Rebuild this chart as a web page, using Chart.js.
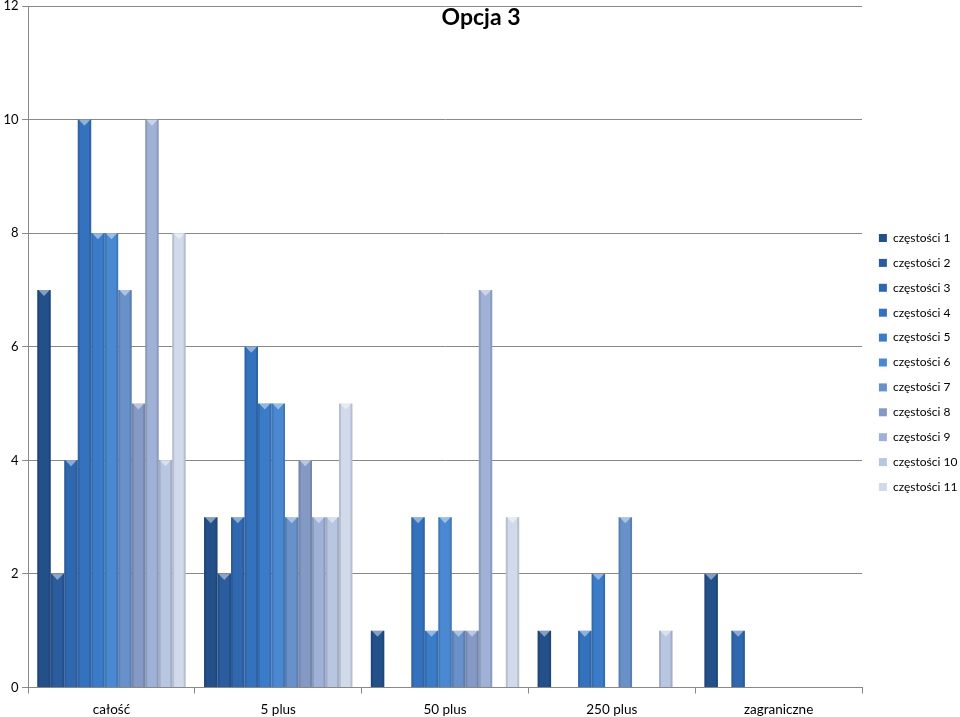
<!DOCTYPE html>
<html>
<head>
<meta charset="utf-8">
<script src="https://cdn.jsdelivr.net/npm/chart.js@4"></script>
<style>
  body { margin: 0; background: #fff; }
  #wrap { width: 960px; height: 717px; }
</style>
</head>
<body>
<div id="wrap"><canvas id="chart"></canvas></div>
<script>
const categories = ['całość', '5 plus', '50 plus', '250 plus', 'zagraniczne'];
const seriesNames = ['częstości 1', 'częstości 2', 'częstości 3', 'częstości 4', 'częstości 5', 'częstości 6',
  'częstości 7', 'częstości 8', 'częstości 9', 'częstości 10', 'częstości 11'];
const czestosci1 = [7, 3, 1, 1, 2];
const czestosci2 = [2, 2, 0, 0, 0];
const czestosci3 = [4, 3, 0, 0, 1];
const czestosci4 = [10, 6, 3, 1, 0];
const czestosci5 = [8, 5, 1, 2, 0];
const czestosci6 = [8, 5, 3, 0, 0];
const czestosci7 = [7, 3, 1, 3, 0];
const czestosci8 = [5, 4, 1, 0, 0];
const czestosci9 = [10, 3, 7, 0, 0];
const czestosci10 = [4, 3, 0, 1, 0];
const czestosci11 = [8, 5, 3, 0, 0];
const seriesValues = [czestosci1, czestosci2, czestosci3, czestosci4, czestosci5, czestosci6,
  czestosci7, czestosci8, czestosci9, czestosci10, czestosci11];
const yTicks = [0, 2, 4, 6, 8, 10, 12];

const colors = ['#24508a', '#2a5c9e', '#3068b0', '#3572bd', '#3b7cc9', '#4a89d2',
  '#6890c9', '#8499c3', '#9fb1d6', '#b9c6e1', '#d1daeb'];

// light chevron on top of each bar, like the Excel bevel
const bevel = {
  id: 'bevel',
  afterDatasetsDraw(chart) {
    const ctx = chart.ctx;
    chart.data.datasets.forEach((ds, i) => {
      chart.getDatasetMeta(i).data.forEach((bar, j) => {
        if (!ds.data[j]) return;
        const half = bar.width / 2;
        ctx.save();
        ctx.fillStyle = 'rgba(255,255,255,0.45)';
        ctx.beginPath();
        ctx.moveTo(bar.x - half + 1, bar.y);
        ctx.lineTo(bar.x + half - 1, bar.y);
        ctx.lineTo(bar.x, bar.y + 6);
        ctx.closePath();
        ctx.fill();
        ctx.fillStyle = 'rgba(0,0,0,0.12)';
        ctx.fillRect(bar.x - half, bar.y, 2, bar.base - bar.y);
        ctx.fillRect(bar.x + half - 2, bar.y, 2, bar.base - bar.y);
        ctx.restore();
      });
    });
  }
};

const innerTitle = {
  id: 'innerTitle',
  afterDraw(chart) {
    const ctx = chart.ctx;
    ctx.save();
    ctx.font = 'bold 23px Lato';
    ctx.fillStyle = '#000';
    ctx.textAlign = 'center';
    ctx.textBaseline = 'middle';
    ctx.fillText('Opcja 3', 481, 18);
    ctx.restore();
  }
};

// nudge the legend a little
const legendShift = {
  id: 'legendShift',
  afterLayout(chart) {
    chart.legend.left += 4;
    chart.legend.right += 4;
    chart.legend.top += 4;
    chart.legend.bottom += 4;
  }
};

new Chart(document.getElementById('chart'), {
  type: 'bar',
  data: {
    labels: categories,
    datasets: seriesValues.map((vals, i) => ({
      label: seriesNames[i],
      data: vals,
      backgroundColor: colors[i],
      borderWidth: 0
    }))
  },
  plugins: [bevel, innerTitle, legendShift],
  options: {
    responsive: true,
    maintainAspectRatio: false,
    animation: false,
    layout: { padding: { top: -8, bottom: -8, left: 0, right: 0 } },
    datasets: { bar: { barPercentage: 1, categoryPercentage: 0.89 } },
    plugins: {
      title: { display: false },
      tooltip: { enabled: false },
      legend: {
        position: 'right',
        maxWidth: 98,
        labels: {
          font: { family: 'Lato', size: 12 },
          color: '#000',
          boxWidth: 8,
          boxHeight: 8,
          padding: 12.9
        }
      }
    },
    scales: {
      x: {
        grid: { display: true, drawOnChartArea: false, offset: true, tickLength: 6, color: '#888' },
        border: { color: '#888' },
        ticks: { font: { family: 'Lato', size: 13.5, lineHeight: 1 }, color: '#000', padding: 9 }
      },
      y: {
        min: 0,
        max: 12,
        afterBuildTicks(axis) { axis.ticks = yTicks.map(v => ({ value: v })); },
        grid: { color: '#888', tickLength: 6 },
        border: { color: '#888' },
        ticks: { font: { family: 'Lato', size: 13, lineHeight: 0.4 }, color: '#000', padding: 3.5 }
      }
    }
  }
});
</script>
</body>
</html>
